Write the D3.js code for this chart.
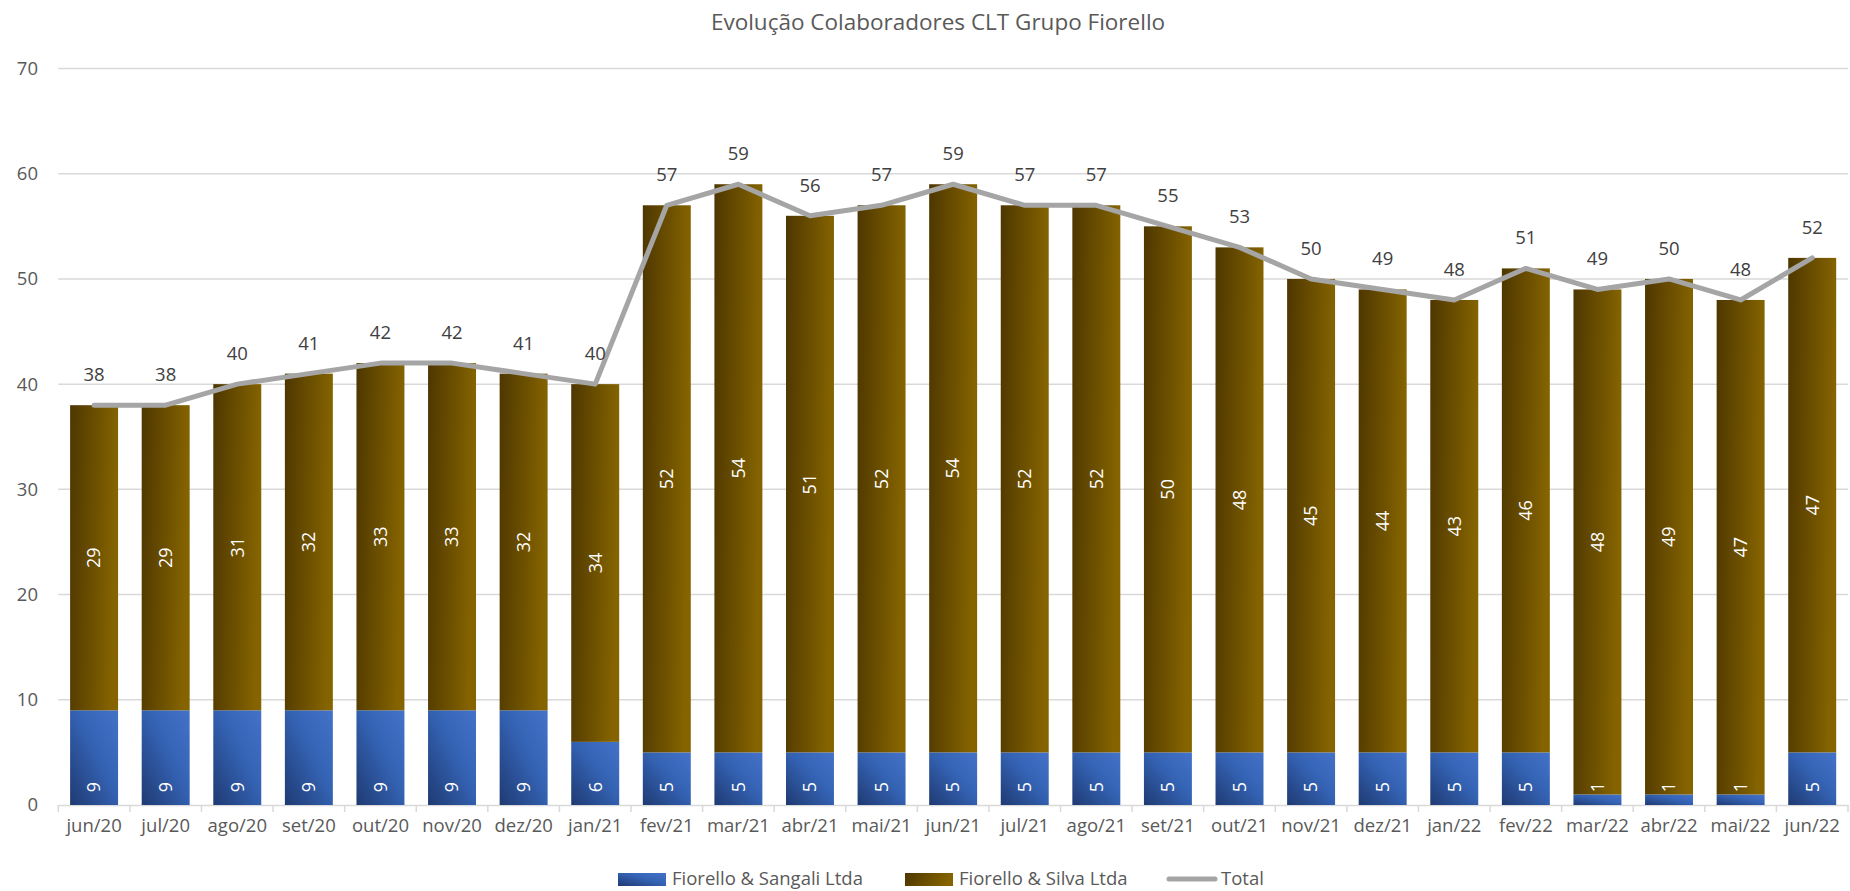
<!DOCTYPE html>
<html>
<head>
<meta charset="utf-8">
<script src="https://cdn.jsdelivr.net/npm/d3@7"></script>
<style>
  body { margin: 0; background: #fff; }
  text { font-family: "Open Sans", sans-serif; }
</style>
</head>
<body>
<div id="chart"></div>
<script>
const months = ["jun/20", "jul/20", "ago/20", "set/20", "out/20", "nov/20", "dez/20", "jan/21", "fev/21",
  "mar/21", "abr/21", "mai/21", "jun/21", "jul/21", "ago/21", "set/21", "out/21", "nov/21", "dez/21",
  "jan/22", "fev/22", "mar/22", "abr/22", "mai/22", "jun/22"];
const sangali = [9, 9, 9, 9, 9, 9, 9, 6, 5, 5, 5, 5, 5, 5, 5, 5, 5, 5, 5, 5, 5, 1, 1, 1, 5];
const silva = [29, 29, 31, 32, 33, 33, 32, 34, 52, 54, 51, 52, 54, 52, 52, 50, 48, 45, 44, 43, 46, 48, 49, 47, 47];
const total = [38, 38, 40, 41, 42, 42, 41, 40, 57, 59, 56, 57, 59, 57, 57, 55, 53, 50, 49, 48, 51, 49, 50, 48, 52];
const yTicks = [0, 10, 20, 30, 40, 50, 60, 70];
const seriesNames = ["Fiorello & Sangali Ltda", "Fiorello & Silva Ltda", "Total"];

const W = 1850, H = 891;
const margin = { top: 68.5, right: 2, bottom: 86, left: 58.3 };
const GRID = "#d9d9d9", TXT = "#595959";

const svg = d3.select("#chart").append("svg").attr("width", W).attr("height", H);

// gradients, roughly like the Excel fills
const defs = svg.append("defs");
const gBlue = defs.append("linearGradient").attr("id", "grad-blue")
  .attr("x1", 0).attr("y1", 1).attr("x2", 1).attr("y2", 0);
gBlue.append("stop").attr("offset", "0%").attr("stop-color", "#1f3a72");
gBlue.append("stop").attr("offset", "55%").attr("stop-color", "#3462b3");
gBlue.append("stop").attr("offset", "100%").attr("stop-color", "#4472c9");
const gBrown = defs.append("linearGradient").attr("id", "grad-brown")
  .attr("x1", 0).attr("y1", 0).attr("x2", 1).attr("y2", 0.15);
gBrown.append("stop").attr("offset", "0%").attr("stop-color", "#4e3700");
gBrown.append("stop").attr("offset", "100%").attr("stop-color", "#856400");

const x = d3.scaleBand().domain(months)
  .range([margin.left, W - margin.right])
  .paddingInner(0.33).paddingOuter(0.165);
const y = d3.scaleLinear().domain([0, 70]).range([H - margin.bottom, margin.top]);

// title
svg.append("text")
  .attr("x", 938).attr("y", 30)
  .attr("text-anchor", "middle")
  .attr("font-size", 22.5).attr("fill", TXT)
  .text("Evolução Colaboradores CLT Grupo Fiorello");

// gridlines
svg.append("g").selectAll("line").data(yTicks.filter(d => d > 0)).join("line")
  .attr("x1", margin.left).attr("x2", W - margin.right)
  .attr("y1", d => y(d)).attr("y2", d => y(d))
  .attr("stroke", GRID).attr("stroke-width", 1.5);

// y axis labels
svg.append("g").selectAll("text").data(yTicks).join("text")
  .attr("x", 38).attr("y", d => y(d)).attr("dy", "0.35em")
  .attr("text-anchor", "end").attr("font-size", 18.5).attr("fill", TXT)
  .text(d => d);

// x axis
const xAxis = svg.append("g")
  .attr("transform", `translate(0,${y(0)})`)
  .call(d3.axisBottom(x).tickSize(0).tickPadding(14));
xAxis.select(".domain").attr("stroke", GRID).attr("stroke-width", 1.5);
xAxis.selectAll("text").attr("font-size", 18.5).attr("fill", TXT)
  .attr("font-family", "Open Sans, sans-serif");
// boundary ticks between categories
const bounds = months.map(m => x(m) - x.step() * x.paddingInner() / 2);
bounds.push(W - margin.right);
xAxis.selectAll(".bound").data(bounds).join("line")
  .attr("class", "bound")
  .attr("x1", d => d).attr("x2", d => d)
  .attr("y1", 0).attr("y2", 7)
  .attr("stroke", GRID).attr("stroke-width", 1.5);

// stacked bars
const rows = months.map((m, i) => ({ m, a: sangali[i], b: silva[i], t: total[i] }));
const bars = svg.append("g");
bars.selectAll(".sangali").data(rows).join("rect")
  .attr("class", "sangali")
  .attr("x", d => x(d.m)).attr("width", x.bandwidth())
  .attr("y", d => y(d.a)).attr("height", d => y(0) - y(d.a))
  .attr("fill", "url(#grad-blue)");
bars.selectAll(".silva").data(rows).join("rect")
  .attr("class", "silva")
  .attr("x", d => x(d.m)).attr("width", x.bandwidth())
  .attr("y", d => y(d.a + d.b)).attr("height", d => y(d.a) - y(d.a + d.b))
  .attr("fill", "url(#grad-brown)");

// rotated labels inside the bars
const cx = d => x(d.m) + x.bandwidth() / 2;
svg.append("g").selectAll("text").data(rows).join("text")
  .attr("transform", d => `translate(${cx(d)},${(y(d.a) + y(d.a + d.b)) / 2}) rotate(-90)`)
  .attr("text-anchor", "middle").attr("dy", "0.35em")
  .attr("font-size", 18).attr("fill", "#fff")
  .text(d => d.b);
svg.append("g").selectAll("text").data(rows).join("text")
  .attr("transform", d => `translate(${cx(d)},${y(0) - 18}) rotate(-90)`)
  .attr("text-anchor", "middle").attr("dy", "0.35em")
  .attr("font-size", 18).attr("fill", "#fff")
  .text(d => d.a);

// total line
const line = d3.line().x(d => cx(d)).y(d => y(d.t));
svg.append("path").datum(rows)
  .attr("d", line)
  .attr("fill", "none").attr("stroke", "#a5a5a5")
  .attr("stroke-width", 5).attr("stroke-linecap", "round").attr("stroke-linejoin", "round");

svg.append("g").selectAll("text").data(rows).join("text")
  .attr("x", cx).attr("y", d => y(d.t) - 24)
  .attr("text-anchor", "middle")
  .attr("font-size", 18.5).attr("fill", "#404040")
  .text(d => d.t);

// legend
const legend = svg.append("g").attr("transform", "translate(0,879)");
const legendItems = [
  { name: seriesNames[0], x: 618, fill: "url(#grad-blue)" },
  { name: seriesNames[1], x: 905, fill: "url(#grad-brown)" },
  { name: seriesNames[2], x: 1167, line: true }
];
legendItems.forEach(it => {
  if (it.line) {
    legend.append("line").attr("x1", it.x + 2).attr("x2", it.x + 48).attr("y1", 0).attr("y2", 0)
      .attr("stroke", "#a5a5a5").attr("stroke-width", 5).attr("stroke-linecap", "round");
  } else {
    legend.append("rect").attr("x", it.x).attr("y", -6).attr("width", 48).attr("height", 13)
      .attr("fill", it.fill);
  }
  legend.append("text").attr("x", it.x + 54).attr("y", 0).attr("dy", "0.35em")
    .attr("font-size", 18.5).attr("fill", TXT).text(it.name);
});
</script>
</body>
</html>
